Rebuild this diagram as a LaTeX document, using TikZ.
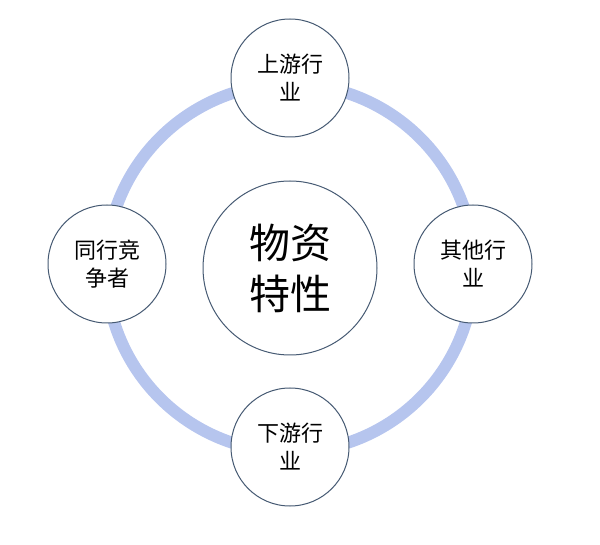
\documentclass[tikz,border=0pt]{standalone}
\usepackage{fontspec}
\setmainfont{Noto Sans CJK SC}
\begin{document}
\begin{tikzpicture}[x=1pt,y=-1pt,
  sm/.style={circle,draw=bord,line width=1pt,fill=white,minimum size=118pt,inner sep=0pt,align=center,font=\fontsize{22}{28}\selectfont},
  big/.style={circle,draw=bord,line width=1pt,fill=white,minimum size=174pt,inner sep=0pt,align=center,font=\fontsize{41}{51}\selectfont}]
\definecolor{ring}{RGB}{182,197,238}
\definecolor{bord}{RGB}{70,90,115}
\useasboundingbox (0,0) rectangle (600,545);
\coordinate (c) at (290,268);
\draw[ring,line width=12pt] (c) circle (184);
\node[big] (m) at (c) {物资\\特性};
\node[sm] (t) at (290,78) {上游行\\业};
\node[sm] (b) at (290,447) {下游行\\业};
\node[sm] (l) at (107,264) {同行竞\\争者};
\node[sm] (r) at (473,264) {其他行\\业};
\end{tikzpicture}
\end{document}
